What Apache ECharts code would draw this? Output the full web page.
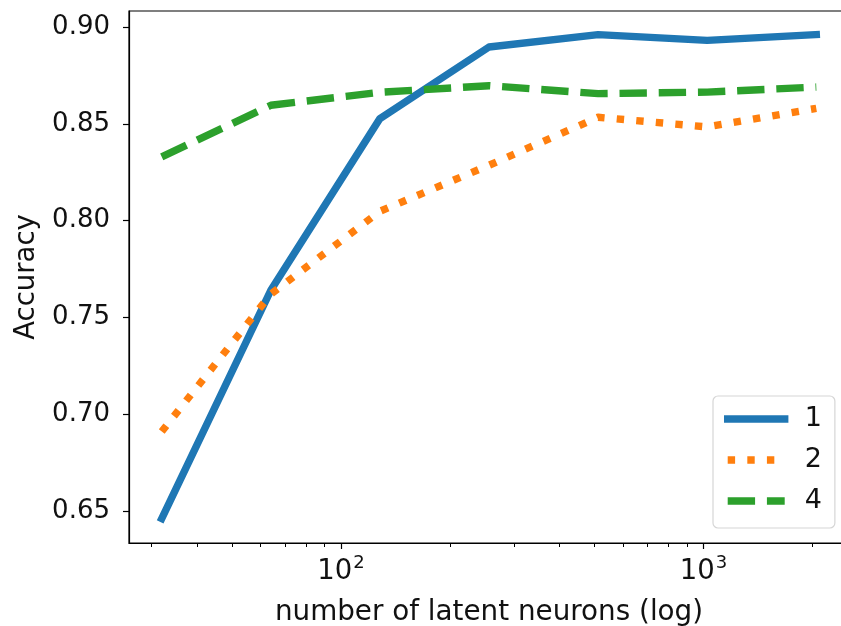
<!DOCTYPE html>
<html>
<head>
<meta charset="utf-8">
<script src="https://cdn.jsdelivr.net/npm/echarts@6/dist/echarts.min.js"></script>
<style>
html,body{margin:0;padding:0;background:#fff;}
#chart{width:841px;height:626px;}
</style>
</head>
<body>
<div id="chart"></div>
<script>
// latent neurons (x, log scale)
const neurons = [32, 64, 128, 256, 512, 1024, 2048];
// accuracy per series
const acc1 = [0.646, 0.764, 0.8527, 0.8897, 0.8961, 0.8931, 0.8961];
const acc2 = [0.691, 0.762, 0.8048, 0.8286, 0.8534, 0.8484, 0.8580];
const acc4 = [0.8329, 0.8596, 0.8663, 0.8697, 0.8656, 0.8664, 0.8690];
const seriesNames = ['1', '2', '4'];
// axis ticks
const yTicks = [0.65, 0.70, 0.75, 0.80, 0.85, 0.90];
const xMajorTicks = [100, 1000];
const xMinorTicks = [30, 40, 50, 60, 70, 80, 90, 200, 300, 400, 500, 600, 700, 800, 900, 2000];

const FONT = 'DejaVu Sans';
const X_MIN = 25.99, X_MAX = 2521;
const Y_MIN = 0.6334, Y_MAX = 0.9083;
const LW = 7.4;

function pairs(ys) { return neurons.map((x, i) => [x, ys[i]]); }

const chart = echarts.init(document.getElementById('chart'), null, {renderer: 'canvas'});
chart.setOption({
  animation: false,
  backgroundColor: '#fff',
  textStyle: {fontFamily: FONT},
  grid: {left: 129, top: 11, right: -8, bottom: 83, containLabel: false, outerBoundsMode: 'none',
    show: true, borderColor: '#000', borderWidth: 1.2, backgroundColor: 'transparent'},
  legend: {
    orient: 'vertical',
    left: 713, top: 396,
    padding: [8, 13, 12, 11],
    itemGap: 11,
    itemWidth: 57, itemHeight: 14,
    backgroundColor: 'rgba(255,255,255,0.8)',
    borderColor: '#d6d6d6', borderWidth: 1.2, borderRadius: 5,
    textStyle: {fontFamily: FONT, fontSize: 27, color: '#111', padding: [0, 0, 0, 15], lineHeight: 30},
    lineStyle: {width: LW},
    itemStyle: {color: 'rgba(0,0,0,0)', borderWidth: 0, opacity: 0},
    data: seriesNames
  },
  xAxis: [{
    type: 'log', logBase: 10, min: X_MIN, max: X_MAX,
    name: 'number of latent neurons (log)', nameLocation: 'middle', nameGap: 56,
    nameTextStyle: {fontFamily: FONT, fontSize: 27.8, color: '#111'},
    axisLine: {show: true, lineStyle: {color: '#000', width: 1.2}},
    axisTick: {show: true, length: 6, lineStyle: {color: '#000', width: 1.2}, customValues: xMajorTicks},
    axisLabel: {
      show: true, margin: 11, customValues: xMajorTicks,
      formatter: v => '{b|10}{s|' + Math.round(Math.log10(v)) + '}',
      rich: {
        b: {fontFamily: FONT, fontSize: 27.5, color: '#111', lineHeight: 32, verticalAlign: 'bottom'},
        s: {fontFamily: FONT, fontSize: 18, color: '#111', lineHeight: 32, verticalAlign: 'top', padding: [0, 0, 0, 1]}
      }
    },
    splitLine: {show: false}, minorTick: {show: false}
  }, {
    type: 'log', logBase: 10, min: X_MIN, max: X_MAX, position: 'bottom',
    axisLine: {show: false},
    axisTick: {show: true, length: 4, lineStyle: {color: '#000', width: 1}, customValues: xMinorTicks},
    axisLabel: {show: false},
    splitLine: {show: false}
  }],
  yAxis: {
    type: 'value', min: Y_MIN, max: Y_MAX,
    name: 'Accuracy', nameLocation: 'middle', nameGap: 87, nameRotate: 90,
    nameTextStyle: {fontFamily: FONT, fontSize: 27.5, color: '#111'},
    axisLine: {show: true, lineStyle: {color: '#000', width: 1.2}},
    axisTick: {show: true, length: 6, lineStyle: {color: '#000', width: 1.2}, customValues: yTicks},
    axisLabel: {show: true, margin: 19, customValues: yTicks, fontFamily: FONT, fontSize: 26, color: '#111',
      formatter: v => v.toFixed(2)},
    splitLine: {show: false}
  },
  series: [{
    name: seriesNames[0], type: 'line', data: pairs(acc1), symbol: 'none', showSymbol: false,
    lineStyle: {color: '#1f77b4', width: LW, type: 'solid', cap: 'square', join: 'round'},
    itemStyle: {color: '#1f77b4'}, z: 3
  }, {
    name: seriesNames[1], type: 'line', data: pairs(acc2), symbol: 'none', showSymbol: false,
    lineStyle: {color: '#ff7f0e', width: LW, type: [LW, 1.65 * LW], cap: 'butt', join: 'round'},
    itemStyle: {color: '#ff7f0e'}, z: 4
  }, {
    name: seriesNames[2], type: 'line', data: pairs(acc4), symbol: 'none', showSymbol: false,
    lineStyle: {color: '#2ca02c', width: LW, type: [3.7 * LW, 1.6 * LW], cap: 'butt', join: 'round'},
    itemStyle: {color: '#2ca02c'}, z: 5
  }]
});
</script>
</body>
</html>
